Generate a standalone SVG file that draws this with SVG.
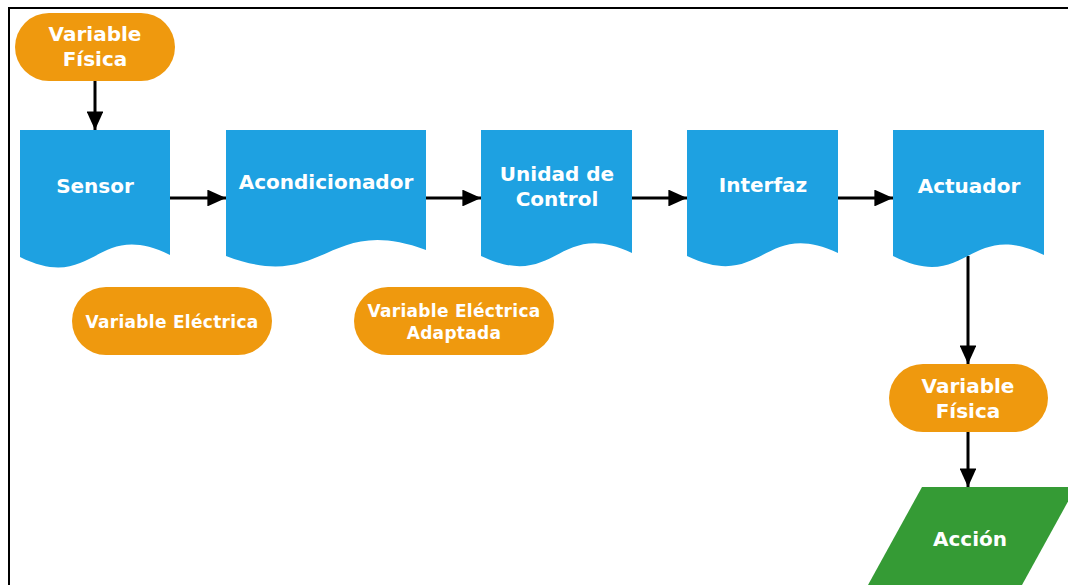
<svg xmlns="http://www.w3.org/2000/svg" width="1068" height="585" viewBox="0 0 1068 585">
<defs>
<style>
.doc{fill:#1ea1e1}
.term{fill:#ef990e}
.io{fill:#359b35}
.t{font-family:"DejaVu Sans","Liberation Sans",sans-serif;font-weight:bold;fill:#ffffff;text-anchor:middle}
.big{font-size:20px}
.sm{font-size:17px;letter-spacing:0.3px}
.conn{stroke:#000;stroke-width:3;fill:none;marker-end:url(#ah)}
</style>
<marker id="ah" viewBox="0 0 10 10" refX="10" refY="5" markerWidth="6.2" markerHeight="5.6" markerUnits="strokeWidth" orient="auto" preserveAspectRatio="none">
<path d="M0,0 L10,5 L0,10 Z" fill="#000"/>
</marker>
</defs>
<rect x="0" y="0" width="1068" height="585" fill="#ffffff"/>
<rect x="9" y="8" width="1080" height="600" fill="#ffffff" stroke="#000" stroke-width="2"/>

<g id="connectors">
<path class="conn" d="M95,81 V130"/>
<path class="conn" d="M170,198 H226"/>
<path class="conn" d="M426,198 H481"/>
<path class="conn" d="M632,198 H687"/>
<path class="conn" d="M838,198 H893"/>
<path class="conn" d="M968,256 V364"/>
<path class="conn" d="M968,432 V487"/>
</g>

<g id="n-var-fisica-in">
<rect class="term" x="15" y="13" width="160" height="68" rx="34"/>
<text class="t big" x="95" y="41">Variable</text>
<text class="t big" x="95" y="66">Física</text>
</g>

<g id="n-sensor">
<path class="doc" d="M20,130 H170 V255 C95,218 95,294 20,257 Z"/>
<text class="t big" x="95" y="193">Sensor</text>
</g>

<g id="n-acond">
<path class="doc" d="M226,130 H426 V250 C326,213 326,294 226,256 Z"/>
<text class="t big" x="326" y="189">Acondicionador</text>
</g>

<g id="n-unidad">
<path class="doc" d="M481,130 H632 V253 C557,218 557,292 481,256 Z"/>
<text class="t big" x="557" y="181">Unidad de</text>
<text class="t big" x="557" y="206">Control</text>
</g>

<g id="n-interfaz">
<path class="doc" d="M687,130 H838 V253 C763,218 763,292 687,256 Z"/>
<text class="t big" x="763" y="192">Interfaz</text>
</g>

<g id="n-actuador">
<path class="doc" d="M893,130 H1044 V255 C968,218 968,294 893,256 Z"/>
<text class="t big" x="969" y="193">Actuador</text>
</g>

<g id="n-var-electrica">
<rect class="term" x="72" y="287" width="200" height="68" rx="34"/>
<text class="t sm" x="172" y="328">Variable Eléctrica</text>
</g>

<g id="n-var-electrica-adaptada">
<rect class="term" x="354" y="287" width="200" height="68" rx="34"/>
<text class="t sm" x="454" y="317">Variable Eléctrica</text>
<text class="t sm" x="454" y="339">Adaptada</text>
</g>

<g id="n-var-fisica-out">
<rect class="term" x="889" y="364" width="159" height="68" rx="34"/>
<text class="t big" x="968" y="393">Variable</text>
<text class="t big" x="968" y="418">Física</text>
</g>

<g id="n-accion">
<path class="io" d="M922,487 H1076 L1022,585 H868 Z"/>
<text class="t big" x="970" y="546">Acción</text>
</g>
</svg>
